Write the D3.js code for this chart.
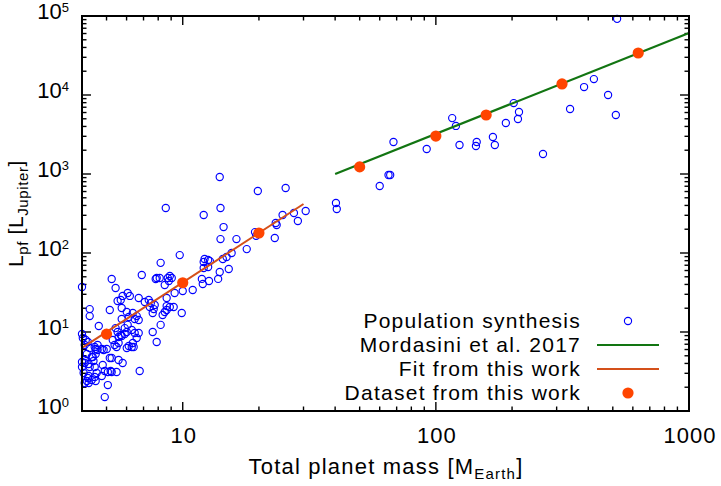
<!DOCTYPE html>
<html>
<head>
<meta charset="utf-8">
<script src="https://cdn.jsdelivr.net/npm/d3@7"></script>
<style>
  body { margin: 0; background: #fff; }
  text { font-family: "Liberation Sans", Arial, Helvetica, sans-serif; fill: #000; }
</style>
</head>
<body>
<div class="grafico"></div>
<script>
// population synthesis planets (mass in M_Earth, luminosity in L_Jupiter)
var popMass = [520, 421, 385, 479, 339, 514, 203, 213, 211, 189, 116, 120, 68, 92, 124, 145, 144, 168, 171, 265, 65, 66, 60,
  14.0, 19.8, 25.5, 8.57, 14.1, 12.1, 40.3, 40.6, 30.6, 27.5, 24.8, 28.5, 23.3, 23.5, 14.5, 19.3, 19.5, 23.1, 14.1, 16.3,
  17.9, 15.6, 14.9, 14.4, 9.73, 8.18, 12.2, 12.1, 12.8, 12.6, 12.6, 12.1, 15.2, 14.0, 13.8, 12.7, 11.9, 12.0,
  6.89, 8.11, 7.89, 7.82, 8.73, 8.89, 9.05, 8.81, 8.49, 9.29, 10.0, 10.95, 5.24, 5.43, 4.0, 6.06, 5.79, 6.18, 6.70,
  7.08, 7.34, 7.48, 7.41, 7.75, 7.68, 7.61, 8.64, 8.89, 9.21, 8.64, 8.64, 8.49, 8.33, 9.91, 8.18, 7.61, 7.89,
  5.15, 5.74, 5.69, 5.53, 6.01, 6.35, 6.58, 6.46, 6.70, 6.12, 5.74, 4.29, 4.29, 4.66, 5.43, 5.53, 5.58, 5.90, 6.01,
  6.29, 6.46, 6.70, 6.06, 5.69, 5.58, 5.48, 6.12, 6.29, 6.01, 6.58, 5.01, 4.53, 4.61, 4.53, 4.79, 5.01, 4.87,
  4.14, 4.22, 4.03, 4.0, 4.18, 4.37, 4.10, 4.0, 4.0, 4.25, 4.49, 4.44, 4.41, 5.24, 5.58, 5.79, 4.83, 4.57, 4.92,
  5.19, 5.48, 6.76, 4.06, 4.25, 4.37, 4.53, 4.18, 4.79, 5.06, 4.10, 4.25, 4.92,
  5.29, 5.74, 5.90, 6.35, 6.40, 5.38, 5.15, 4.49, 4.22, 4.61, 4.49, 4.10, 4.29, 4.29, 4.10, 5.24, 5.06];
var popLum = [92000, 15900, 12600, 10000, 6650, 5590, 7900, 6100, 4970, 4420, 5100, 4060, 2540, 2070, 2330, 2540, 2260, 2940, 2330, 1790, 970, 970, 705,
  916, 609, 665, 371, 371, 303, 430, 361, 340, 321, 303, 254, 240, 226, 213, 184, 165, 155, 150, 150,
  112, 100, 89, 84, 94, 75, 84, 77, 79, 81.5, 66.5, 64.6, 62.7, 57.4, 47, 44.2, 47, 40.5,
  52.7, 48.3, 48.3, 46.9, 48.3, 51.2, 48.3, 44.2, 39.4, 31.2, 33, 34, 46.9, 36.1, 37.1, 31.2, 28.6, 28.6, 26.9,
  24.0, 25.4, 23.3, 20.7, 22.0, 19.5, 17.4, 26.9, 20.7, 20.7, 21.3, 19.0, 17.9, 16.4, 17.4, 12.3, 10.0, 7.47,
  19.0, 20.1, 25.4, 24.7, 17.9, 17.4, 15.9, 14.6, 14.2, 15.5, 14.6, 19.5, 15.9, 11.9, 11.2, 10.0, 8.64, 11.2, 10.0,
  10.6, 9.71, 9.71, 12.3, 9.16, 7.26, 6.46, 6.65, 6.46, 6.27, 8.40, 9.16, 6.09, 5.92, 5.27, 6.09, 6.09, 5.92,
  7.92, 7.47, 8.40, 9.43, 5.27, 4.83, 4.42, 4.17, 3.61, 3.94, 3.61, 4.30, 4.83, 4.69, 4.42, 4.05, 3.82, 3.03, 3.21,
  3.21, 3.12, 3.21, 3.03, 2.77, 2.47, 2.40, 2.40, 2.77, 2.13, 2.26, 2.26, 1.50,
  7.92, 8.9, 9.43, 7.26, 6.46, 6.85, 4.69, 2.69, 2.62, 6.85, 6.46, 6.85, 6.27, 3.61, 4.05, 3.12, 3.12];

// Mordasini et al. 2017 relation
var mordMass = [40, 1000];
var mordLum = [1000, 61000];

// fit from this work
var fitMass = [4, 30];
var fitLum = [6.3, 417];

// dataset from this work
var dataMass = [5, 10, 20, 50, 100, 158, 315, 630];
var dataLum = [9.4, 42, 179, 1230, 3020, 5580, 13800, 34000];

var xTicks = [10, 100, 1000];
var yExp = [0, 1, 2, 3, 4, 5];

var legendLabels = ["Population synthesis", "Mordasini et al. 2017", "Fit from this work", "Dataset from this work"];

var ancho = 721, alto = 486;
var margen = { left: 82, right: 32, top: 16, bottom: 75 };

var svg = d3.select('.grafico')
  .append('svg')
  .attr('width', ancho)
  .attr('height', alto);

var xScale = d3.scaleLog()
  .domain([4, 1000])
  .range([margen.left, ancho - margen.right]);

var yScale = d3.scaleLog()
  .domain([1, 1e5])
  .range([alto - margen.bottom, margen.top]);

var x0 = xScale.range()[0], x1 = xScale.range()[1];
var y0 = yScale.range()[0], y1 = yScale.range()[1];

// minor + major tick values
var xMinor = [];
[1, 10, 100].forEach(function (dec) {
  for (var k = 1; k <= 9; k++) {
    var v = k * dec;
    if (v >= 4 && v <= 1000) xMinor.push(v);
  }
});
var yMinor = [];
for (var e = 0; e < 5; e++) {
  for (var k = 2; k <= 9; k++) yMinor.push(k * Math.pow(10, e));
}

var ejes = svg.append('g').attr('stroke', '#000').attr('stroke-width', 1.4);

function ticksX(vals, len) {
  vals.forEach(function (v) {
    var x = xScale(v);
    ejes.append('line').attr('x1', x).attr('x2', x).attr('y1', y0).attr('y2', y0 - len);
    ejes.append('line').attr('x1', x).attr('x2', x).attr('y1', y1).attr('y2', y1 + len);
  });
}
function ticksY(vals, len) {
  vals.forEach(function (v) {
    var y = yScale(v);
    ejes.append('line').attr('x1', x0).attr('x2', x0 + len).attr('y1', y).attr('y2', y);
    ejes.append('line').attr('x1', x1).attr('x2', x1 - len).attr('y1', y).attr('y2', y);
  });
}
ticksX(xMinor.filter(function (v) { return xTicks.indexOf(v) < 0; }), 4.5);
ticksX(xTicks, 9);
ticksY(yMinor, 4.5);
ticksY(yExp.map(function (e) { return Math.pow(10, e); }), 9);

// data
var linea = d3.line()
  .x(function (d) { return xScale(d[0]); })
  .y(function (d) { return yScale(d[1]); });

svg.append('g')
  .selectAll('circle')
  .data(popMass)
  .enter()
  .append('circle')
  .attr('cx', function (d) { return xScale(d); })
  .attr('cy', function (d, i) { return yScale(popLum[i]); })
  .attr('r', 3.6)
  .attr('fill', 'none')
  .attr('stroke', '#0000ff')
  .attr('stroke-width', 1.15);

svg.append('path')
  .datum(mordMass.map(function (m, i) { return [m, mordLum[i]]; }))
  .attr('d', linea)
  .attr('fill', 'none')
  .attr('stroke', '#127512')
  .attr('stroke-width', 2.2);

svg.append('path')
  .datum(fitMass.map(function (m, i) { return [m, fitLum[i]]; }))
  .attr('d', linea)
  .attr('fill', 'none')
  .attr('stroke', '#d4501a')
  .attr('stroke-width', 2);

svg.append('g')
  .selectAll('circle')
  .data(dataMass)
  .enter()
  .append('circle')
  .attr('cx', function (d) { return xScale(d); })
  .attr('cy', function (d, i) { return yScale(dataLum[i]); })
  .attr('r', 5.6)
  .attr('fill', '#ff4500');

// frame
svg.append('rect')
  .attr('x', x0).attr('y', y1)
  .attr('width', x1 - x0).attr('height', y0 - y1)
  .attr('fill', 'none')
  .attr('stroke', '#000')
  .attr('stroke-width', 2);

// tick labels
svg.append('g')
  .selectAll('text')
  .data(xTicks)
  .enter()
  .append('text')
  .attr('x', function (d) { return xScale(d) + 1; })
  .attr('y', 443)
  .attr('text-anchor', 'middle')
  .attr('font-size', 22)
  .attr('letter-spacing', 1)
  .text(function (d) { return d; });

var yLab = svg.append('g')
  .selectAll('text')
  .data(yExp)
  .enter()
  .append('text')
  .attr('x', 69)
  .attr('y', function (d) { return yScale(Math.pow(10, d)) + 3; })
  .attr('text-anchor', 'end')
  .attr('font-size', 22);
yLab.append('tspan').text('10');
yLab.append('tspan').attr('dy', -7).attr('font-size', 13).text(function (d) { return d; });

// axis titles
var xt = svg.append('text')
  .attr('x', 386)
  .attr('y', 474)
  .attr('text-anchor', 'middle')
  .attr('font-size', 22)
  .attr('letter-spacing', 1.2);
xt.append('tspan').text('Total planet mass [M');
xt.append('tspan').attr('dy', 5).attr('font-size', 15).text('Earth');
xt.append('tspan').attr('dy', -5).text(']');

var yt = svg.append('text')
  .attr('transform', 'translate(23,' + ((y0 + y1) / 2) + ') rotate(-90)')
  .attr('text-anchor', 'middle')
  .attr('font-size', 21)
  .attr('letter-spacing', 0.6);
yt.append('tspan').text('L');
yt.append('tspan').attr('dy', 5).attr('font-size', 15).text('pf');
yt.append('tspan').attr('dy', -5).text(' [L');
yt.append('tspan').attr('dy', 5).attr('font-size', 15).text('Jupiter');
yt.append('tspan').attr('dy', -5).text(']');

// legend
var leyenda = svg.append('g');
var filaY = [321, 345, 369, 393];
leyenda.selectAll('text')
  .data(legendLabels)
  .enter()
  .append('text')
  .attr('x', 581)
  .attr('y', function (d, i) { return filaY[i] + 7; })
  .attr('text-anchor', 'end')
  .attr('font-size', 21)
  .attr('letter-spacing', 1.25)
  .text(function (d) { return d; });

leyenda.append('circle')
  .attr('cx', 628).attr('cy', filaY[0]).attr('r', 3.6)
  .attr('fill', 'none').attr('stroke', '#0000ff').attr('stroke-width', 1.15);
leyenda.append('line')
  .attr('x1', 597).attr('x2', 659).attr('y1', filaY[1]).attr('y2', filaY[1])
  .attr('stroke', '#127512').attr('stroke-width', 2.2);
leyenda.append('line')
  .attr('x1', 597).attr('x2', 659).attr('y1', filaY[2]).attr('y2', filaY[2])
  .attr('stroke', '#d4501a').attr('stroke-width', 2);
leyenda.append('circle')
  .attr('cx', 628).attr('cy', filaY[3]).attr('r', 5.6)
  .attr('fill', '#ff4500');
</script>
</body>
</html>
